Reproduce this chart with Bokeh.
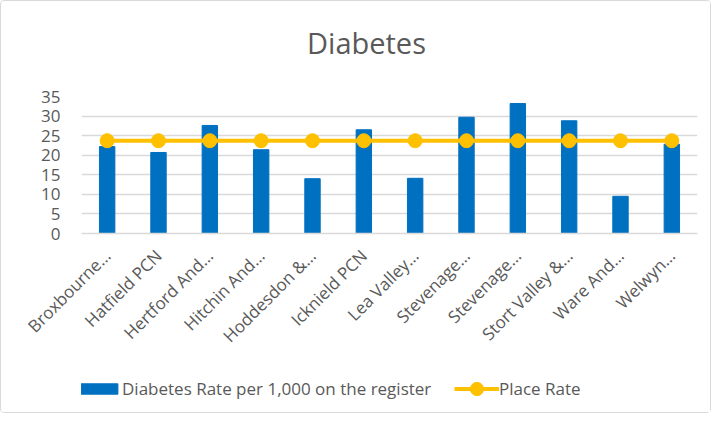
import math
from bokeh.plotting import figure
from bokeh.layouts import column
from bokeh.models import (ColumnDataSource, FixedTicker, Label, Legend, LegendItem, Range1d)
from bokeh.embed import file_html
from bokeh.resources import INLINE

title_text = "Diabetes"
categories = ["Broxbourne…", "Hatfield PCN", "Hertford And…", "Hitchin And…",
              "Hoddesdon &…", "Icknield PCN", "Lea Valley…", "Stevenage…",
              "Stevenage…", "Stort Valley &…", "Ware And…", "Welwyn…"]
diabetes_rate = [22.2, 20.7, 27.6, 21.4, 14.0, 26.5, 14.1, 29.7, 33.2, 28.8, 9.5, 22.8]
place_rate = [23.7] * 12
y_ticks = [0, 5, 10, 15, 20, 25, 30, 35]

FONT = "Open Sans"
GREY = "#595959"
BLUE = "#0070C0"
GOLD = "#FFC000"
W = 709


def strip(height):
    f = figure(width=W, height=height, output_backend="svg", toolbar_location=None,
               x_range=Range1d(0, 1), y_range=Range1d(0, 1),
               min_border_left=80, min_border_right=13, min_border_top=0,
               min_border_bottom=0)
    f.axis.visible = False
    f.grid.visible = False
    f.outline_line_color = None
    return f


# title strip
tf = strip(72)
tf.add_layout(Label(x=0.5, y=0.5, text=title_text, text_align="center",
                    text_baseline="middle", x_offset=-23, y_offset=-5,
                    text_font=FONT, text_font_size="29px", text_color=GREY))

# main chart
x = list(range(1, len(categories) + 1))
src = ColumnDataSource(dict(x=x, rate=diabetes_rate, place=place_rate))

p = figure(width=W, height=288, output_backend="svg", toolbar_location=None,
           x_range=Range1d(0.5, len(categories) + 0.5), y_range=Range1d(0, 35),
           min_border_left=80, min_border_right=13, min_border_top=23,
           min_border_bottom=128)

bars = p.vbar(x="x", top="rate", width=0.3, source=src, fill_color=BLUE,
              line_color=BLUE)
line = p.line(x="x", y="place", source=src, line_color=GOLD, line_width=4)
dots = p.scatter(x="x", y="place", source=src, size=14, fill_color=GOLD,
                 line_color=GOLD)

p.xaxis.ticker = FixedTicker(ticks=x)
p.xaxis.major_label_overrides = {i: c for i, c in zip(x, categories)}
p.xaxis.major_label_orientation = math.pi / 4
p.xaxis.major_label_text_font = FONT
p.xaxis.major_label_text_font_size = "17px"
p.xaxis.major_label_text_color = GREY
p.xaxis.major_tick_line_color = None
p.xaxis.minor_tick_line_color = None
p.xaxis.axis_line_color = "#d9d9d9"
p.xaxis.axis_line_width = 1.5
p.xaxis.major_label_standoff = 13

p.yaxis.ticker = FixedTicker(ticks=y_ticks)
p.yaxis.major_label_text_font = FONT
p.yaxis.major_label_text_font_size = "17px"
p.yaxis.major_label_text_color = GREY
p.yaxis.major_tick_line_color = None
p.yaxis.minor_tick_line_color = None
p.yaxis.axis_line_color = None
p.yaxis.major_label_standoff = 15

p.xgrid.grid_line_color = None
p.ygrid.ticker = FixedTicker(ticks=y_ticks)
p.ygrid.grid_line_color = "#d9d9d9"
p.ygrid.grid_line_width = 1.5
p.outline_line_color = None

# legend strip below the chart (its renderers hold one point outside the visible range)
lg = strip(51)
hidden = ColumnDataSource(dict(x=[-10], rate=[-10], place=[-10]))
lb = lg.vbar(x="x", top="rate", bottom=-11, width=0.3, source=hidden, fill_color=BLUE, line_color=BLUE)
ll = lg.line(x="x", y="place", source=hidden, line_color=GOLD, line_width=4)
ld = lg.scatter(x="x", y="place", source=hidden, size=14, fill_color=GOLD, line_color=GOLD)

common = dict(orientation="horizontal", label_text_font=FONT, label_text_font_size="17px",
              label_text_color=GREY, padding=0, margin=0, spacing=0,
              border_line_color=None, background_fill_alpha=0)
legend_bar = Legend(items=[LegendItem(label="Diabetes Rate per 1,000 on the register", renderers=[lb])],
                    location=(-5, 12), glyph_width=46, glyph_height=13, label_standoff=0,
                    **common)
legend_line = Legend(items=[LegendItem(label="Place Rate", renderers=[ll, ld])],
                     location=(373, 7), glyph_width=45, glyph_height=33, label_standoff=0,
                     **common)
lg.add_layout(legend_bar, "center")
lg.add_layout(legend_line, "center")

layout = column(tf, p, lg, spacing=0)
layout.styles = {"border": "1px solid #d9d9d9", "border-radius": "4px"}

open("out.html", "w").write(file_html(layout, INLINE))
